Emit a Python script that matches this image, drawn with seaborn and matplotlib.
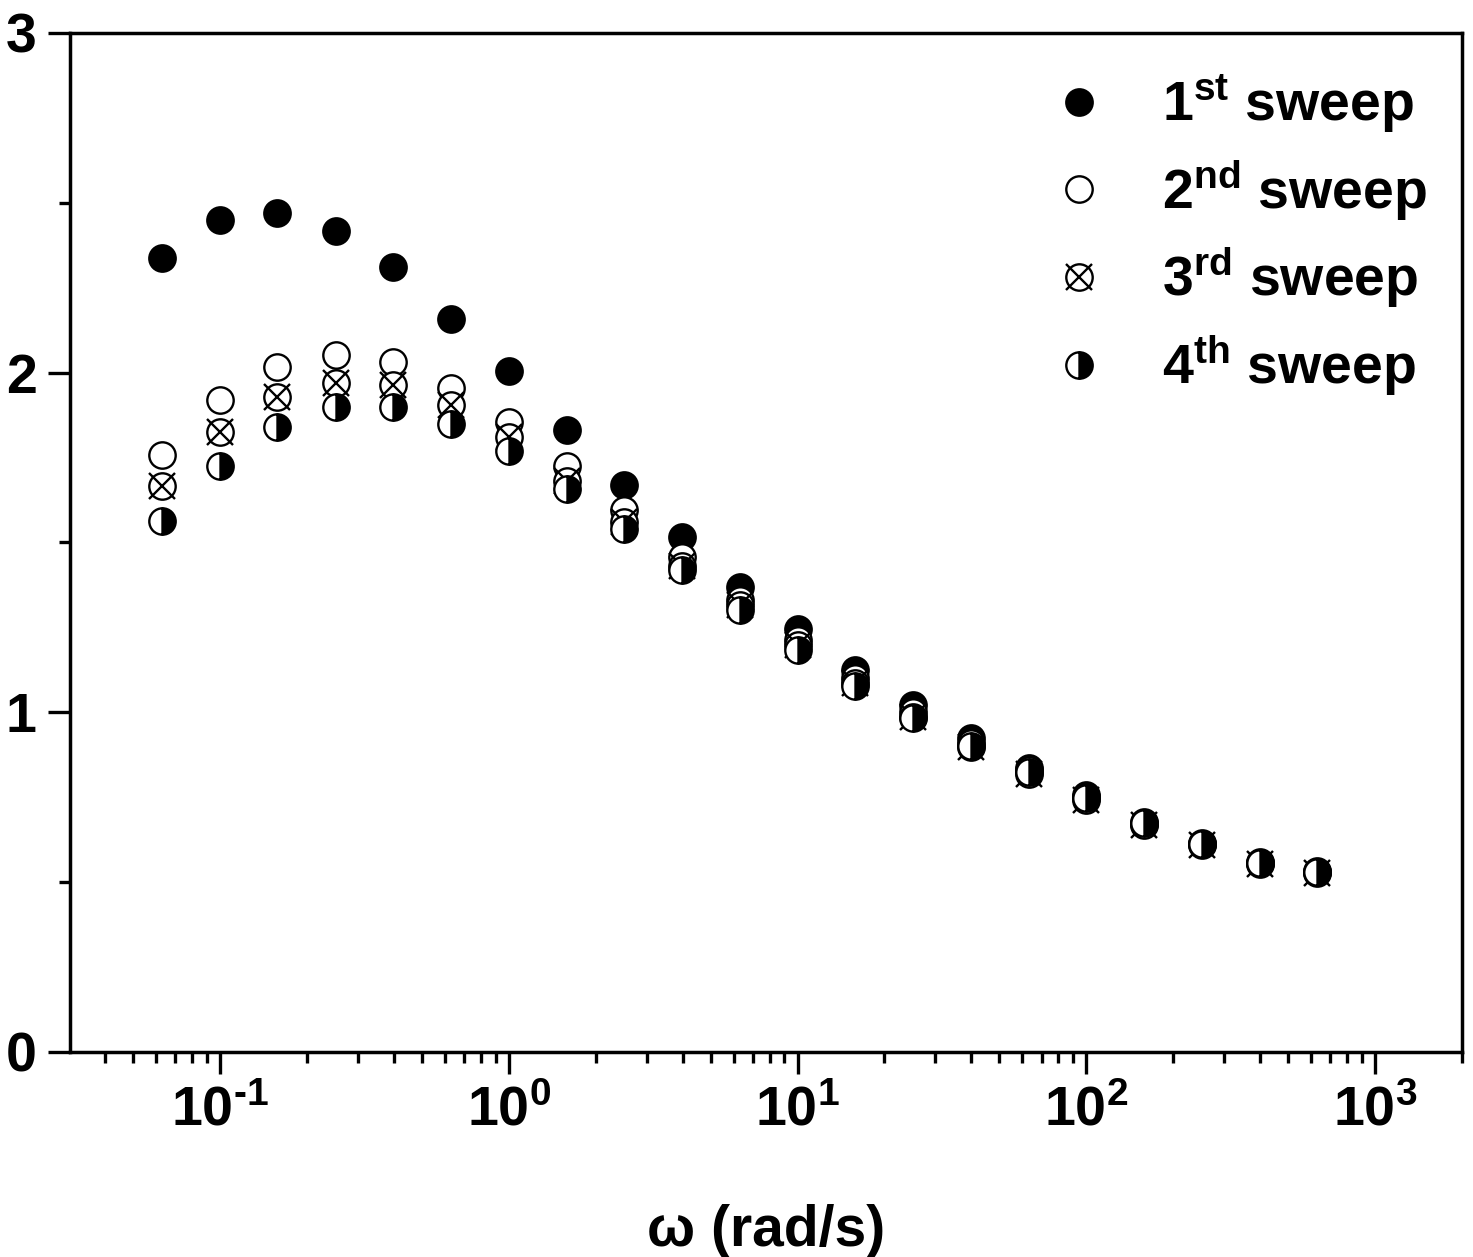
import math
import matplotlib
matplotlib.use("Agg")
import matplotlib.pyplot as plt
import seaborn as sns
from matplotlib.ticker import FixedLocator, LogLocator, MultipleLocator, NullFormatter, FuncFormatter

# ---- data ----
omega = [0.0631, 0.1, 0.158, 0.251, 0.398, 0.631, 1.0, 1.585, 2.51, 3.98,
         6.31, 10.0, 15.85, 25.1, 39.8, 63.1, 100.0, 158.5, 251.0, 398.0, 631.0]
sweep1 = [2.337, 2.449, 2.470, 2.417, 2.311, 2.158, 2.005, 1.831, 1.669, 1.516,
          1.369, 1.245, 1.124, 1.021, 0.924, 0.836, 0.756, 0.677, 0.615, 0.559, 0.533]
sweep2 = [1.757, 1.919, 2.016, 2.052, 2.031, 1.955, 1.855, 1.725, 1.596, 1.457,
          1.331, 1.213, 1.101, 1.001, 0.910, 0.830, 0.751, 0.672, 0.612, 0.556, 0.530]
sweep3 = [1.666, 1.825, 1.928, 1.969, 1.963, 1.905, 1.810, 1.681, 1.560, 1.431,
          1.316, 1.198, 1.086, 0.986, 0.898, 0.818, 0.742, 0.668, 0.609, 0.553, 0.527]
sweep4 = [1.563, 1.725, 1.840, 1.899, 1.899, 1.849, 1.769, 1.657, 1.540, 1.419,
          1.301, 1.183, 1.077, 0.983, 0.901, 0.824, 0.748, 0.673, 0.612, 0.556, 0.530]
labels = [r"1$^{st}$ sweep", r"2$^{nd}$ sweep", r"3$^{rd}$ sweep", r"4$^{th}$ sweep"]
yticks = [0, 1, 2, 3]
xticks = [0.1, 1, 10, 100, 1000]
xlabel = "ω (rad/s)"

sns.set_theme(style="ticks")
plt.rcParams.update({
    "font.family": ["Liberation Sans", "DejaVu Sans"],
    "font.weight": "bold",
    "mathtext.fontset": "custom",
    "mathtext.rm": "Liberation Sans:bold",
    "mathtext.it": "Liberation Sans:bold",
    "mathtext.bf": "Liberation Sans:bold",
    "mathtext.sf": "Liberation Sans:bold",
    "mathtext.default": "rm",
    "axes.edgecolor": "black",
    "axes.labelcolor": "black",
    "text.color": "black",
    "xtick.color": "black",
    "ytick.color": "black",
})

fig = plt.figure(figsize=(14.73, 12.57), dpi=100)
ax = fig.add_axes([0.0475, 0.1631, 0.945, 0.8107])

ms = 19
mew = 1.7
common = dict(ax=ax, linestyle="none", markersize=ms, markeredgewidth=mew,
              markeredgecolor="black", estimator=None, sort=False)

sns.lineplot(x=omega, y=sweep1, marker="o", color="black",
             markerfacecolor="black", **common)
h1 = ax.lines[-1]
sns.lineplot(x=omega, y=sweep2, marker="o", color="black",
             markerfacecolor="white", **common)
h2 = ax.lines[-1]
sns.lineplot(x=omega, y=sweep3, marker="o", color="black",
             markerfacecolor="white", **common)
h3a = ax.lines[-1]
sns.lineplot(x=omega, y=sweep3, marker="x", color="black", **common)
h3b = ax.lines[-1]
sns.lineplot(x=omega, y=sweep4, marker="o", color="black",
             markerfacecolor="black", fillstyle="right",
             markerfacecoloralt="white", **common)
h4 = ax.lines[-1]

ax.set_xscale("log")
ax.set_xlim(0.0302, 2000)
ax.set_ylim(0, 3)


def fmt(v, p):
    e = int(round(math.log10(v)))
    if e < 0:
        return r"$10^{\text{-}%d}$" % (-e)
    return r"$10^{%d}$" % e


ax.xaxis.set_major_locator(FixedLocator(xticks))
ax.xaxis.set_major_formatter(FuncFormatter(fmt))
ax.xaxis.set_minor_locator(LogLocator(base=10, subs=[2, 3, 4, 5, 6, 7, 8, 9], numticks=20))
ax.xaxis.set_minor_formatter(NullFormatter())
ax.yaxis.set_major_locator(FixedLocator(yticks))
ax.yaxis.set_minor_locator(MultipleLocator(0.5))
ax.set_yticklabels([str(t) for t in yticks])

for s in ax.spines.values():
    s.set_linewidth(2.5)
    s.set_color("black")
ax.tick_params(which="major", direction="out", length=16, width=2.4,
               labelsize=40, pad=8, top=False, right=False)
ax.tick_params(which="minor", direction="out", length=8, width=2.4,
               top=False, right=False)
for lab in ax.get_xticklabels() + ax.get_yticklabels():
    lab.set_fontweight("bold")

ax.set_xlabel(xlabel, fontsize=41, fontweight="bold", labelpad=48)
ax.set_ylabel("")

leg = ax.legend([h1, h2, (h3a, h3b), h4], labels, loc="upper right",
                bbox_to_anchor=(1.011, 1.01), frameon=False, fontsize=40,
                handlelength=1.0, handletextpad=1.0, labelspacing=0.42,
                markerscale=1.0)
for t in leg.get_texts():
    t.set_fontweight("bold")

fig.savefig("out.png", dpi=100, facecolor="white")
